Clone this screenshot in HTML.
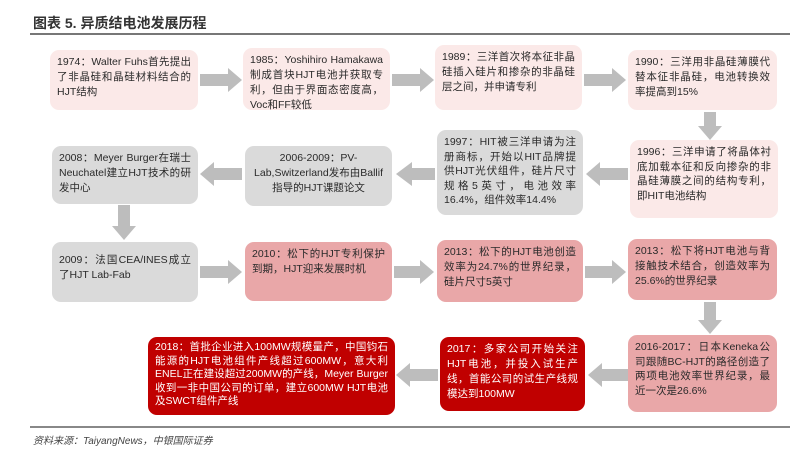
<!DOCTYPE html>
<html><head><meta charset="utf-8"><style>
body{margin:0;width:800px;height:453px;background:#fff;position:relative;overflow:hidden;font-family:"Liberation Sans","Noto Sans CJK SC",sans-serif;}
.b{position:absolute;box-sizing:border-box;border-radius:9px;padding:5px 7px;font-size:10.5px;line-height:15px;color:#2a2a2a;text-align:justify;}
.lp{background:#fbe9e8;}
.g{background:#dadada;}
.mp{background:#e9a7a8;}
.dr{background:#c00000;color:#fff;}
svg{position:absolute;left:0;top:0;}
</style></head><body>
<div style="position:absolute;left:33px;top:13px;font-size:14px;font-weight:bold;color:#333;font-family:'Liberation Sans','Noto Sans CJK SC',sans-serif;">图表 5. 异质结电池发展历程</div>
<div style="position:absolute;left:30px;top:33px;width:760px;height:2px;background:#777;"></div>

<svg width="800" height="453">
<g fill="#bdbdbd">
<polygon points="200,74 228,74 228,68 242,80 228,92 228,86 200,86"/>
<polygon points="392,74 420,74 420,68 434,80 420,92 420,86 392,86"/>
<polygon points="584,74 612,74 612,68 626,80 612,92 612,86 584,86"/>
<polygon points="704,112 716,112 716,126 722,126 710,140 698,126 704,126"/>
<polygon points="628,168 600,168 600,162 586,174 600,186 600,180 628,180"/>
<polygon points="435,168 412,168 412,162 396,174 412,186 412,180 435,180"/>
<polygon points="242,168 214,168 214,162 200,174 214,186 214,180 242,180"/>
<polygon points="118,205 130,205 130,226 136,226 124,240 112,226 118,226"/>
<polygon points="200,266 228,266 228,260 242,272 228,284 228,278 200,278"/>
<polygon points="394,266 420,266 420,260 434,272 420,284 420,278 394,278"/>
<polygon points="585,266 612,266 612,260 626,272 612,284 612,278 585,278"/>
<polygon points="704,302 716,302 716,320 722,320 710,334 698,320 704,320"/>
<polygon points="628,369 602,369 602,363 588,375 602,387 602,381 628,381"/>
<polygon points="438,369 410,369 410,363 396,375 410,387 410,381 438,381"/>
</g>
</svg>

<div class="b lp" style="left:50px;top:50px;width:148px;height:60px;">1974：Walter Fuhs首先提出了非晶硅和晶硅材料结合的HJT结构</div>
<div class="b lp" style="left:243px;top:48px;width:147px;height:62px;">1985：Yoshihiro Hamakawa制成首块HJT电池并获取专利，但由于界面态密度高，Voc和FF较低</div>
<div class="b lp" style="left:435px;top:45px;width:147px;height:65px;">1989：三洋首次将本征非晶硅插入硅片和掺杂的非晶硅层之间，并申请专利</div>
<div class="b lp" style="left:628px;top:50px;width:149px;height:60px;">1990：三洋用非晶硅薄膜代替本征非晶硅，电池转换效率提高到15%</div>

<div class="b g" style="left:52px;top:146px;width:146px;height:58px;">2008：Meyer Burger在瑞士Neuchatel建立HJT技术的研发中心</div>
<div class="b g" style="left:245px;top:146px;width:147px;height:60px;text-align:center;">2006-2009：PV-Lab,Switzerland发布由Ballif指导的HJT课题论文</div>
<div class="b g" style="left:437px;top:130px;width:146px;height:85px;line-height:14.5px;">1997：HIT被三洋申请为注册商标，开始以HIT品牌提供HJT光伏组件，硅片尺寸规格5英寸，电池效率16.4%，组件效率14.4%</div>
<div class="b lp" style="left:630px;top:140px;width:148px;height:78px;line-height:14.5px;">1996：三洋申请了将晶体衬底加载本征和反向掺杂的非晶硅薄膜之间的结构专利，即HIT电池结构</div>

<div class="b g" style="left:52px;top:242px;width:146px;height:60px;padding-top:11px;">2009：法国CEA/INES成立了HJT Lab-Fab</div>
<div class="b mp" style="left:245px;top:242px;width:147px;height:59px;">2010：松下的HJT专利保护到期，HJT迎来发展时机</div>
<div class="b mp" style="left:437px;top:240px;width:146px;height:62px;">2013：松下的HJT电池创造效率为24.7%的世界纪录，硅片尺寸5英寸</div>
<div class="b mp" style="left:628px;top:239px;width:149px;height:61px;">2013：松下将HJT电池与背接触技术结合，创造效率为25.6%的世界纪录</div>

<div class="b dr" style="left:148px;top:337px;width:247px;height:78px;line-height:13.5px;padding-top:4px;">2018：首批企业进入100MW规模量产，中国钧石能源的HJT电池组件产线超过600MW，意大利ENEL正在建设超过200MW的产线，Meyer Burger收到一非中国公司的订单，建立600MW HJT电池及SWCT组件产线</div>
<div class="b dr" style="left:440px;top:337px;width:145px;height:74px;">2017：多家公司开始关注HJT电池，并投入试生产线，首能公司的试生产线规模达到100MW</div>
<div class="b mp" style="left:628px;top:335px;width:149px;height:77px;line-height:14.5px;">2016-2017：日本Keneka公司跟随BC-HJT的路径创造了两项电池效率世界纪录，最近一次是26.6%</div>

<div style="position:absolute;left:30px;top:426px;width:760px;height:2px;background:#888;"></div>
<div style="position:absolute;left:33px;top:432px;font-size:10px;color:#444;font-style:italic;">资料来源：TaiyangNews，中银国际证券</div>
</body></html>
